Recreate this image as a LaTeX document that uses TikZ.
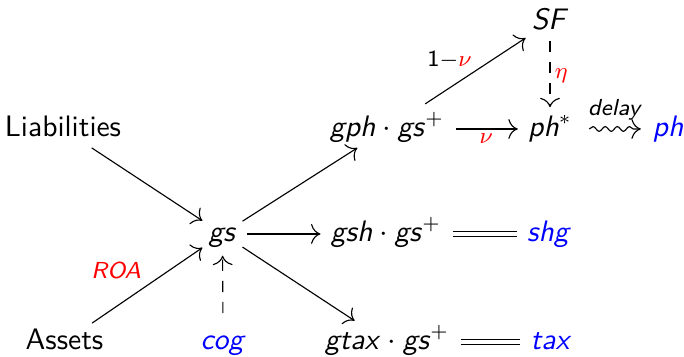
\documentclass[tikz,border=0pt]{standalone}
\usepackage{fontspec}
\usetikzlibrary{arrows.meta,decorations.pathmorphing}
\begin{document}
\begin{tikzpicture}[x=0.3546pt,y=-0.3546pt,
  >={Computer Modern Rightarrow[scale=1.35]},
  every node/.style={font=\sffamily\fontsize{10.5}{12.5}\selectfont},
  cell/.style={anchor=base, inner xsep=2pt, inner ysep=1.5pt, text height=7.5pt, text depth=2.5pt},
  lbl/.style={font=\sffamily\fontsize{8.2}{10}\selectfont, inner sep=1.5pt},
  arr/.style={->, line width=0.4pt},
  dsh/.style={arr, dash pattern=on 4pt off 3.5pt},
  eqline/.style={double, double distance=1.1pt, line width=0.4pt, shorten <=2pt, shorten >=1.5pt},
  wavy/.style={->, line width=0.4pt, decorate, decoration={snake, amplitude=0.85pt, segment length=4.3pt, post length=2.2pt}},
]
\useasboundingbox (0,0) rectangle (684,356);
% nodes
\node[cell] (SF)  at (550,29)  {\textit{SF}};
\node[cell] (lia) at (63,136)  {Liabilities};
\node[cell] (gph) at (387,136) {\textit{gph}${}\cdot{}$\textit{gs}$^{+}$};
\node[cell] (phs) at (550,136) {\textit{ph}$^{*}$};
\node[cell, text=blue] (ph) at (668,136) {\textit{ph}};
\node[cell] (gs)  at (222.5,241) {\textit{gs}};
\node[cell] (gsh) at (386,241) {\textit{gsh}${}\cdot{}$\textit{gs}$^{+}$};
\node[cell, text=blue] (shg) at (549,241) {\textit{shg}};
\node[cell] (ast) at (64.5,349) {Assets};
\node[cell, text=blue] (cog) at (223,349) {\textit{cog}};
\node[cell] (gtax) at (387,349) {\textit{gtax}${}\cdot{}$\textit{gs}$^{+}$};
\node[cell, text=blue] (tax) at (551,349) {\textit{tax}};
% connectors
\draw[arr] (lia) -- (gs);
\draw[arr] (ast) -- node[lbl, midway, anchor=south east, text=red, inner sep=2pt] {\textit{ROA}} (gs);
\draw[dsh, shorten <=3.5pt, shorten >=1pt] (cog) -- (gs);
\draw[arr] (gs) -- (gph);
\draw[arr, shorten <=1.5pt, shorten >=1.5pt] (gs.east) -- (gs.east -| gsh.west);
\draw[arr, shorten >=1.5pt] (gs) -- (gtax);
\draw[arr, shorten <=4pt] (gph) -- node[lbl, midway, anchor=south east, xshift=2pt] {1$-$\textcolor{red}{$\nu$}} (SF);
\draw[arr, shorten <=2pt, shorten >=1.5pt] (gph.east) -- node[lbl, midway, anchor=north, text=red] {$\nu$} (gph.east -| phs.west);
\draw[dsh, shorten >=1pt] (SF) -- node[lbl, midway, anchor=west, text=red] {$\eta$} (phs);
\draw[wavy] ([xshift=4pt]phs.east) -- node[lbl, midway, anchor=south, yshift=1.5pt] {\textit{delay}} ([xshift=-2pt]phs.east -| ph.west);
\draw[eqline] (gsh.east) -- (gsh.east -| shg.west);
\draw[eqline] (gtax.east) -- (gtax.east -| tax.west);
\end{tikzpicture}
\end{document}
